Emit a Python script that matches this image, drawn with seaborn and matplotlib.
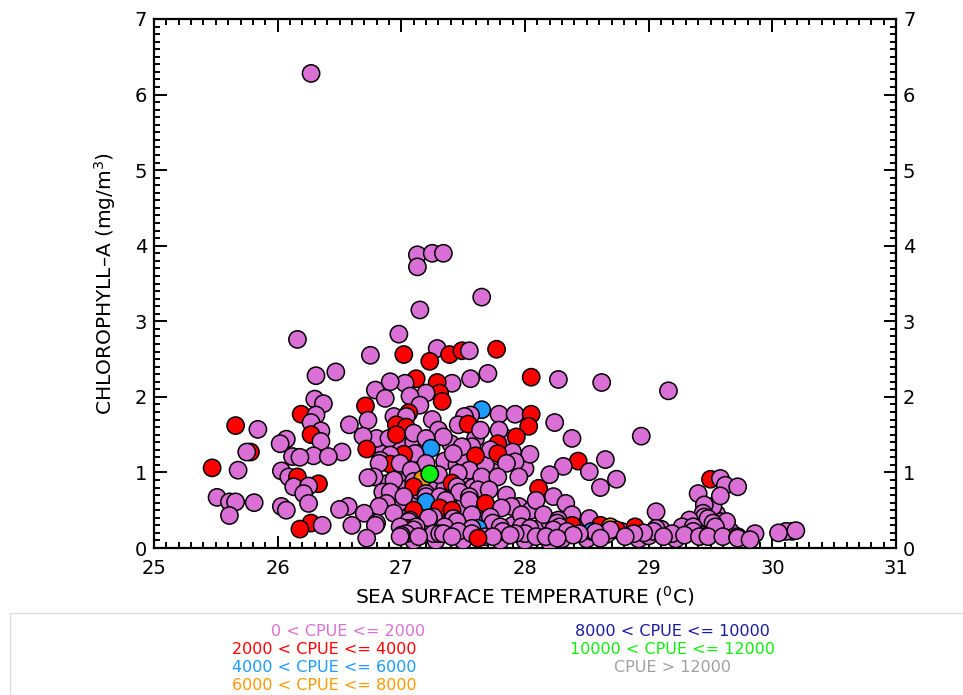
import matplotlib
matplotlib.use("Agg")
import matplotlib.pyplot as plt
from matplotlib.patches import Rectangle
from matplotlib.ticker import MultipleLocator
import pandas as pd
import seaborn as sns

# CPUE classes (index into CLASS_LABELS / CLASS_COLORS)
CLASS_LABELS = ["0 < CPUE <= 2000", "2000 < CPUE <= 4000", "4000 < CPUE <= 6000",
                "6000 < CPUE <= 8000", "8000 < CPUE <= 10000", "10000 < CPUE <= 12000",
                "CPUE > 12000"]
CLASS_COLORS = ["#DA70D6", "#FF0000", "#1E9BFF", "#FF9900", "#1A1A9E", "#11EE11", "#A0A0A0"]

# background observations in the crowded core (all 0 < CPUE <= 2000)
sst_core = [
    27.05, 27.15, 27.28, 27.38, 27.50, 27.60, 27.05, 27.15, 27.28, 27.35,
    27.52, 27.58, 27.00, 27.12, 27.35, 27.45, 27.50, 27.00, 27.10, 27.40,
    27.15, 26.95, 26.88, 26.98, 27.30, 27.40, 27.50, 27.65, 27.70, 27.90,
    28.10, 28.20, 28.30, 28.48, 28.50, 28.66, 28.78, 28.92, 29.00, 29.10,
    29.22, 29.25, 29.32, 29.40, 29.50, 29.55, 29.58, 29.66, 29.52, 29.40,
    27.20, 27.10, 27.28, 27.50, 27.80, 28.00, 28.20, 27.95, 28.05, 27.85,
    27.75, 27.68, 28.00, 27.85, 27.60, 26.85, 26.80, 27.25, 26.90, 27.05,
]
chl_core = [
    0.55, 0.62, 0.60, 0.58, 0.55, 0.50, 0.80, 0.75, 0.85, 0.78,
    0.88, 0.80, 1.00, 1.10, 1.15, 1.10, 1.20, 1.35, 1.40, 1.38,
    1.25, 1.05, 0.85, 0.60, 0.30, 0.45, 0.30, 0.35, 0.22, 0.30,
    0.25, 0.35, 0.12, 0.28, 0.12, 0.18, 0.22, 0.12, 0.16, 0.25,
    0.12, 0.22, 0.30, 0.25, 0.20, 0.45, 0.35, 0.22, 0.55, 0.35,
    0.30, 0.10, 0.10, 0.10, 0.10, 0.10, 0.08, 0.55, 0.50, 0.70,
    1.00, 1.10, 1.05, 1.45, 1.45, 1.30, 1.45, 1.70, 1.45, 0.40,
]

# sea surface temperature (deg C)
sst = [
    26.27, 27.13, 27.13, 27.25, 27.34, 27.65, 27.15, 26.16, 26.98, 27.02,
    26.75, 27.29, 27.23, 27.39, 27.49, 27.55, 27.77, 26.47, 26.31, 27.70,
    27.56, 27.41, 27.29, 27.12, 27.03, 26.91, 28.05, 28.27, 28.62, 29.16,
    26.79, 27.31, 27.20, 27.07, 26.87, 26.30, 26.37, 27.33, 27.15, 26.71,
    27.65, 27.06, 26.19, 26.31, 27.79, 27.92, 28.05, 27.56, 27.51, 26.94,
    26.73, 27.04, 28.24, 26.27, 25.66, 26.58, 26.96, 27.46, 27.54, 28.03,
    27.04, 25.84, 26.35, 27.30, 27.64, 27.79, 26.27, 26.96, 27.10, 26.69,
    28.94, 27.34, 27.93, 28.38, 27.20, 26.07, 26.35, 26.02, 27.78, 27.57,
    27.49, 26.72, 27.24, 27.72, 25.78, 25.75, 26.52, 27.90, 27.78, 27.42,
    27.11, 28.04, 27.02, 26.91, 26.29, 27.60, 26.12, 26.18, 26.41, 26.83,
    28.65, 28.43, 27.92, 26.91, 26.82, 26.99, 27.20, 27.85, 28.31, 25.47,
    25.68, 26.03, 27.08, 27.55, 28.52, 27.46, 27.30, 28.20, 26.78, 26.09,
    26.16, 27.65, 27.78, 27.95, 26.73, 29.50, 29.58, 28.74, 26.94, 27.10,
    27.17, 27.23, 26.33, 27.41, 29.62, 26.13, 26.25, 27.10, 27.45, 28.11,
    28.61, 29.72, 27.62, 27.71, 26.85, 26.91, 27.47, 26.21, 27.20, 29.40,
    25.51, 27.02, 27.20, 27.31, 27.55, 28.23, 29.58, 27.36, 27.55, 28.09,
    25.61, 25.66, 25.81, 26.25, 27.68, 26.88, 28.33, 27.20, 29.45, 26.03,
    26.57, 26.82, 27.89, 27.81, 27.31, 26.07, 26.50, 27.10, 27.41, 29.06,
    26.70, 26.94, 29.44, 25.61, 27.57, 27.97, 28.15, 28.38, 27.26, 27.22,
    27.72, 29.45, 27.42, 28.52, 29.48, 27.07, 28.27, 29.33, 27.06, 27.45,
    29.63, 26.27, 26.80, 27.74, 28.26, 29.52, 26.60, 26.79, 26.36, 28.38,
    28.61, 27.62, 27.05, 26.99, 27.12, 27.35, 27.80, 27.97, 28.28, 28.69,
    28.89, 29.27, 29.36, 29.54, 28.04, 27.57, 29.06, 26.18, 27.10, 28.23,
    28.74, 28.69, 28.54, 27.46, 27.82, 28.34, 28.57, 29.04, 29.36, 30.16,
    30.11, 30.19, 28.96, 30.05, 27.04, 27.26, 27.31, 27.34, 27.57, 28.00,
    27.92, 28.44, 28.88, 29.19, 29.86, 27.00, 27.88, 28.39, 29.29, 27.14,
    26.99, 27.41, 27.68, 27.74, 28.09, 28.17, 28.81, 29.12, 29.41, 29.48,
    29.60, 29.72, 27.62, 26.72, 28.26, 28.61, 29.72, 29.82,
]

# chlorophyll-a (mg/m^3)
chl = [
    6.28, 3.88, 3.72, 3.90, 3.90, 3.32, 3.15, 2.76, 2.83, 2.56,
    2.55, 2.64, 2.47, 2.56, 2.61, 2.61, 2.63, 2.33, 2.28, 2.31,
    2.24, 2.18, 2.19, 2.24, 2.18, 2.20, 2.26, 2.23, 2.19, 2.08,
    2.09, 2.05, 2.05, 2.01, 1.98, 1.97, 1.91, 1.94, 1.89, 1.88,
    1.83, 1.79, 1.77, 1.76, 1.77, 1.77, 1.77, 1.76, 1.74, 1.74,
    1.69, 1.74, 1.66, 1.66, 1.62, 1.63, 1.63, 1.63, 1.64, 1.61,
    1.60, 1.57, 1.55, 1.56, 1.56, 1.56, 1.50, 1.50, 1.52, 1.48,
    1.48, 1.47, 1.47, 1.45, 1.45, 1.44, 1.41, 1.38, 1.38, 1.34,
    1.34, 1.31, 1.32, 1.30, 1.27, 1.27, 1.27, 1.27, 1.25, 1.25,
    1.25, 1.24, 1.24, 1.23, 1.22, 1.22, 1.21, 1.20, 1.21, 1.16,
    1.17, 1.15, 1.14, 1.11, 1.12, 1.12, 1.12, 1.12, 1.08, 1.06,
    1.03, 1.02, 1.03, 1.03, 1.01, 0.99, 0.97, 0.97, 0.94, 0.94,
    0.94, 0.94, 0.94, 0.94, 0.93, 0.91, 0.92, 0.91, 0.90, 0.88,
    0.91, 0.98, 0.85, 0.86, 0.83, 0.81, 0.82, 0.81, 0.81, 0.79,
    0.80, 0.81, 0.77, 0.77, 0.74, 0.74, 0.74, 0.72, 0.72, 0.72,
    0.67, 0.68, 0.68, 0.68, 0.68, 0.68, 0.69, 0.63, 0.63, 0.63,
    0.61, 0.61, 0.60, 0.59, 0.59, 0.59, 0.59, 0.61, 0.57, 0.55,
    0.55, 0.55, 0.55, 0.53, 0.53, 0.50, 0.51, 0.50, 0.50, 0.48,
    0.46, 0.46, 0.46, 0.43, 0.44, 0.44, 0.44, 0.44, 0.41, 0.40,
    0.41, 0.41, 0.39, 0.39, 0.39, 0.37, 0.37, 0.37, 0.35, 0.35,
    0.35, 0.33, 0.33, 0.33, 0.33, 0.33, 0.30, 0.30, 0.30, 0.30,
    0.30, 0.26, 0.26, 0.28, 0.28, 0.28, 0.28, 0.28, 0.28, 0.28,
    0.28, 0.28, 0.28, 0.28, 0.26, 0.26, 0.26, 0.25, 0.24, 0.24,
    0.24, 0.24, 0.22, 0.22, 0.22, 0.22, 0.21, 0.22, 0.22, 0.22,
    0.22, 0.23, 0.20, 0.20, 0.19, 0.19, 0.19, 0.19, 0.19, 0.19,
    0.19, 0.19, 0.19, 0.19, 0.19, 0.17, 0.17, 0.17, 0.17, 0.15,
    0.15, 0.15, 0.15, 0.15, 0.15, 0.15, 0.15, 0.15, 0.15, 0.15,
    0.15, 0.15, 0.13, 0.13, 0.13, 0.13, 0.13, 0.11,
]

# CPUE class of each observation
cpue_class = [
    0, 0, 0, 0, 0, 0, 0, 0, 0, 1,
    0, 0, 1, 1, 1, 0, 1, 0, 0, 0,
    0, 0, 1, 1, 0, 0, 1, 0, 0, 0,
    0, 1, 0, 0, 0, 0, 0, 1, 0, 1,
    2, 1, 1, 0, 0, 0, 1, 0, 0, 0,
    0, 0, 0, 0, 1, 0, 1, 0, 1, 1,
    1, 0, 0, 0, 0, 0, 1, 1, 0, 0,
    0, 0, 1, 0, 0, 0, 0, 0, 1, 0,
    0, 1, 2, 0, 1, 0, 0, 0, 1, 0,
    0, 0, 1, 0, 0, 1, 0, 0, 0, 0,
    0, 1, 0, 1, 0, 0, 0, 0, 0, 1,
    0, 0, 0, 0, 0, 0, 0, 0, 0, 0,
    1, 0, 0, 0, 0, 1, 0, 0, 0, 0,
    3, 5, 1, 1, 0, 0, 0, 1, 0, 1,
    0, 0, 0, 0, 0, 0, 0, 0, 0, 0,
    0, 0, 0, 0, 0, 0, 0, 0, 0, 0,
    0, 0, 0, 0, 1, 0, 0, 2, 0, 0,
    0, 0, 0, 0, 1, 0, 0, 1, 1, 0,
    0, 0, 0, 0, 0, 0, 0, 0, 0, 0,
    0, 0, 0, 0, 0, 0, 0, 0, 0, 0,
    0, 1, 0, 0, 0, 0, 0, 0, 0, 1,
    1, 2, 1, 0, 0, 0, 0, 0, 0, 3,
    1, 0, 0, 0, 0, 0, 0, 1, 0, 0,
    1, 0, 2, 0, 0, 0, 0, 0, 0, 0,
    0, 0, 0, 0, 0, 0, 0, 0, 0, 0,
    0, 0, 0, 0, 0, 0, 0, 0, 0, 0,
    0, 0, 0, 0, 0, 0, 0, 0, 0, 0,
    0, 0, 1, 0, 0, 0, 0, 0,
]

# core observations first so the listed ones sit on top of them
all_sst = sst_core + sst
all_chl = chl_core + chl
all_cls = [0] * len(sst_core) + cpue_class
df = pd.DataFrame({"sst": all_sst, "chl": all_chl,
                   "cpue": [CLASS_LABELS[c] for c in all_cls]})

sns.set_style("ticks")
plt.rcParams["font.family"] = ["DejaVu Sans"]
plt.rcParams["mathtext.fontset"] = "dejavusans"
plt.rcParams["text.color"] = "black"
plt.rcParams["axes.labelcolor"] = "black"
plt.rcParams["xtick.color"] = "black"
plt.rcParams["ytick.color"] = "black"

fig = plt.figure(figsize=(9.63, 6.95), dpi=100)
ax = fig.add_axes([154 / 963, 1 - 548 / 695, (896 - 154) / 963, (548 - 19) / 695])

sns.scatterplot(data=df, x="sst", y="chl", hue="cpue",
                hue_order=CLASS_LABELS, palette=CLASS_COLORS,
                s=155, edgecolor="black", linewidth=1.1, legend=False, ax=ax, zorder=3)

ax.set_xlim(25, 31)
ax.set_ylim(0, 7)
ax.xaxis.set_major_locator(MultipleLocator(1))
ax.xaxis.set_minor_locator(MultipleLocator(0.1))
ax.yaxis.set_major_locator(MultipleLocator(1))
ax.yaxis.set_minor_locator(MultipleLocator(0.1))
ax.tick_params(which="both", direction="in", top=True, right=True,
               labelright=True, labeltop=False, color="black", labelcolor="black",
               width=1.4)
ax.tick_params(which="major", length=9, labelsize=14)
ax.tick_params(axis="x", which="major", pad=8)
ax.tick_params(axis="y", which="major", pad=5)
ax.tick_params(which="minor", length=4.5)
for sp in ax.spines.values():
    sp.set_linewidth(1.6)
    sp.set_color("black")

ax.set_xlabel("SEA SURFACE TEMPERATURE ($^0$C)", fontsize=14.5, labelpad=4, color="black")
ax.set_ylabel("CHLOROPHYLL\u2013A (mg/m$^3$)", fontsize=14.5, labelpad=12, color="black")

# legend panel below the axes
fig.patches.append(Rectangle((10 / 963, -0.05), 1.0, 1 - 613 / 695 + 0.05,
                             transform=fig.transFigure, facecolor="white",
                             edgecolor="#dddddd", linewidth=1.0, zorder=0))
col_x = [348, 324, 324, 324, 672, 672, 672]
row_y = [631, 649, 667, 685, 631, 649, 667]
for label, color, x, y in zip(CLASS_LABELS, CLASS_COLORS, col_x, row_y):
    fig.text(x / 963, 1 - y / 695, label, color=color, fontsize=11.5,
             ha="center", va="center")

fig.savefig("out.png", dpi=100)
